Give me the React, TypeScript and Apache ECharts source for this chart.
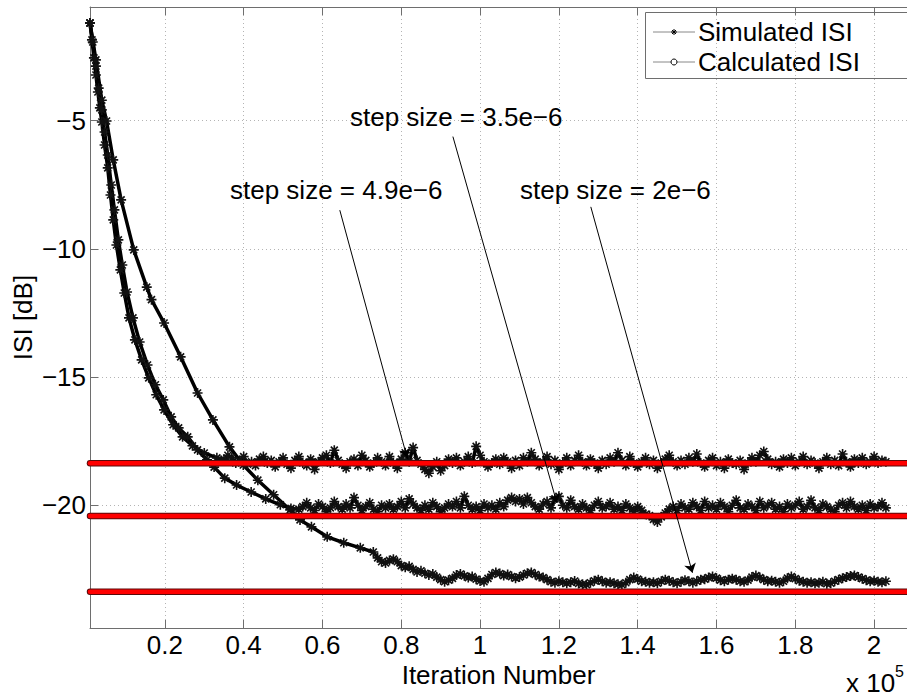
import React, { useEffect, useRef } from "react";
import * as echarts from "echarts";

const FONT = "'Liberation Sans', Arial, Helvetica, sans-serif";

// axis ticks (x in units of 1e5 iterations)
const xTicks = [0.2, 0.4, 0.6, 0.8, 1.0, 1.2, 1.4, 1.6, 1.8, 2.0];
const yTicks = [-20, -15, -10, -5];
const X_MIN = 0.01;
const X_MAX = 2.0835;
const Y_MIN = -24.785;
const Y_MAX = -0.566;

// calculated (theoretical) ISI levels, one per step size
const calcLevels = [-18.36, -20.42, -23.37];

// Simulated ISI, step size = 4.9e-6
const simAx = [
  0.010, 0.015, 0.020, 0.025, 0.030, 0.035, 0.040, 0.047, 0.055, 0.062, 0.069, 0.077, 0.087, 0.097,
  0.109, 0.124, 0.141, 0.159, 0.178, 0.198, 0.221, 0.245, 0.270, 0.300, 0.332,
  0.35, 0.36, 0.37, 0.38, 0.39, 0.40, 0.41, 0.42, 0.43, 0.44,
  0.45, 0.46, 0.47, 0.48, 0.49, 0.50, 0.51, 0.52, 0.53, 0.54,
  0.55, 0.56, 0.57, 0.58, 0.59, 0.60, 0.61, 0.62, 0.63, 0.64,
  0.65, 0.66, 0.67, 0.68, 0.69, 0.70, 0.71, 0.72, 0.73, 0.74,
  0.75, 0.76, 0.77, 0.78, 0.79, 0.80, 0.81, 0.82, 0.83, 0.84,
  0.85, 0.86, 0.87, 0.88, 0.89, 0.90, 0.91, 0.92, 0.93, 0.94,
  0.95, 0.96, 0.97, 0.98, 0.99, 1.00, 1.01, 1.02, 1.03, 1.04,
  1.05, 1.06, 1.07, 1.08, 1.09, 1.10, 1.11, 1.12, 1.13, 1.14,
  1.15, 1.16, 1.17, 1.18, 1.19, 1.20, 1.21, 1.22, 1.23, 1.24,
  1.25, 1.26, 1.27, 1.28, 1.29, 1.30, 1.31, 1.32, 1.33, 1.34,
  1.35, 1.36, 1.37, 1.38, 1.39, 1.40, 1.41, 1.42, 1.43, 1.44,
  1.45, 1.46, 1.47, 1.48, 1.49, 1.50, 1.51, 1.52, 1.53, 1.54,
  1.55, 1.56, 1.57, 1.58, 1.59, 1.60, 1.61, 1.62, 1.63, 1.64,
  1.65, 1.66, 1.67, 1.68, 1.69, 1.70, 1.71, 1.72, 1.73, 1.74,
  1.75, 1.76, 1.77, 1.78, 1.79, 1.80, 1.81, 1.82, 1.83, 1.84,
  1.85, 1.86, 1.87, 1.88, 1.89, 1.90, 1.91, 1.92, 1.93, 1.94,
  1.95, 1.96, 1.97, 1.98, 1.99, 2.00, 2.01, 2.02, 2.03,
];
const simAy = [
  -1.19, -1.85, -2.55, -3.22, -3.88, -4.5, -5.05, -5.95, -6.84, -7.9, -8.87, -9.85, -10.82, -11.72,
  -12.69, -13.55, -14.33, -15.03, -15.69, -16.28, -16.86, -17.33, -17.68, -17.96, -18.15,
  -18.2, -18.05, -18.15, -18.35, -18.25, -18.1, -18.4, -18.3, -18.45, -18.2,
  -18.1, -18.35, -18.25, -18.5, -18.3, -18.15, -18.4, -18.55, -18.25, -18.1,
  -18.35, -18.45, -18.2, -18.6, -18.3, -18.15, -18.05, -18.35, -17.85, -18.25,
  -18.4, -18.55, -18.3, -18.2, -18.45, -18.05, -18.25, -18.5, -18.35, -18.15,
  -18.3, -18.45, -18.1, -18.35, -18.55, -18.2, -17.95, -18.3, -17.75, -18.25,
  -18.4, -18.6, -18.75, -18.5, -18.3, -18.65, -18.45, -18.2, -18.35, -18.15,
  -18.45, -18.3, -18.1, -18.35, -17.7, -18.05, -18.3, -18.5, -18.35, -18.2,
  -18.4, -18.15, -18.3, -18.55, -18.25, -18.45, -18.15, -18.3, -17.95, -18.2,
  -18.45, -18.3, -18.1, -18.4, -18.25, -18.6, -18.35, -18.15, -18.45, -18.25,
  -18.05, -18.3, -18.45, -18.2, -18.35, -18.55, -18.25, -18.4, -18.15, -18.3,
  -17.95, -18.25, -18.45, -18.1, -18.35, -18.5, -18.3, -18.15, -18.4, -18.25,
  -18.55, -18.35, -18.2, -18.05, -18.3, -18.45, -18.25, -18.4, -18.15, -18.3,
  -18.0, -18.35, -18.5, -18.25, -18.15, -18.45, -18.3, -18.55, -18.2, -18.35,
  -18.4, -18.25, -18.6, -18.35, -18.15, -18.3, -18.05, -17.9, -18.2, -18.4,
  -18.3, -18.5, -18.2, -18.35, -18.15, -18.45, -18.3, -18.1, -18.4, -18.25,
  -18.35, -18.55, -18.3, -18.15, -18.4, -18.25, -18.45, -18.0, -18.3, -18.5,
  -18.2, -18.35, -18.15, -18.4, -18.3, -18.1, -18.35, -18.25, -18.3,
];

// Simulated ISI, step size = 3.5e-6
const simBx = [
  0.010, 0.017, 0.025, 0.032, 0.040, 0.047, 0.055, 0.064, 0.072, 0.082, 0.092, 0.104, 0.119, 0.136,
  0.156, 0.176, 0.196, 0.216, 0.235, 0.258, 0.283, 0.307, 0.325, 0.352, 0.382, 0.419, 0.456, 0.493, 0.520,
  0.54, 0.55, 0.56, 0.57, 0.58, 0.59, 0.60, 0.61, 0.62, 0.63,
  0.64, 0.65, 0.66, 0.67, 0.68, 0.69, 0.70, 0.71, 0.72, 0.73,
  0.74, 0.75, 0.76, 0.77, 0.78, 0.79, 0.80, 0.81, 0.82, 0.83,
  0.84, 0.85, 0.86, 0.87, 0.88, 0.89, 0.90, 0.91, 0.92, 0.93,
  0.94, 0.95, 0.96, 0.97, 0.98, 0.99, 1.00, 1.01, 1.02, 1.03,
  1.04, 1.05, 1.06, 1.07, 1.08, 1.09, 1.10, 1.11, 1.12, 1.13,
  1.14, 1.15, 1.16, 1.17, 1.18, 1.19, 1.20, 1.21, 1.22, 1.23,
  1.24, 1.25, 1.26, 1.27, 1.28, 1.29, 1.30, 1.31, 1.32, 1.33,
  1.34, 1.35, 1.36, 1.37, 1.38, 1.39, 1.40, 1.41, 1.42, 1.43,
  1.44, 1.45, 1.46, 1.47, 1.48, 1.49, 1.50, 1.51, 1.52, 1.53,
  1.54, 1.55, 1.56, 1.57, 1.58, 1.59, 1.60, 1.61, 1.62, 1.63,
  1.64, 1.65, 1.66, 1.67, 1.68, 1.69, 1.70, 1.71, 1.72, 1.73,
  1.74, 1.75, 1.76, 1.77, 1.78, 1.79, 1.80, 1.81, 1.82, 1.83,
  1.84, 1.85, 1.86, 1.87, 1.88, 1.89, 1.90, 1.91, 1.92, 1.93,
  1.94, 1.95, 1.96, 1.97, 1.98, 1.99, 2.00, 2.01, 2.02, 2.03,
];
const simBy = [
  -1.19, -1.93, -2.87, -3.73, -4.58, -5.44, -6.34, -7.51, -8.48, -9.65, -10.63, -11.68, -12.69, -13.63,
  -14.53, -15.3, -15.89, -16.55, -16.98, -17.33, -17.84, -18.23, -18.51, -18.94, -19.21, -19.48, -19.75, -19.98, -20.12,
  -20.15, -20.05, -19.9, -20.1, -20.2, -19.95, -20.05, -20.25, -20.1, -19.85,
  -20.05, -20.15, -19.95, -20.1, -19.7, -20.0, -20.2, -20.05, -19.9, -20.15,
  -20.25, -20.0, -20.1, -19.95, -20.15, -20.05, -19.85, -20.1, -19.75, -19.95,
  -20.1, -20.2, -20.0, -20.15, -19.9, -20.05, -20.25, -20.1, -19.95, -20.05,
  -19.85, -20.1, -19.65, -20.0, -20.15, -20.05, -20.2, -19.95, -20.1, -20.0,
  -20.15, -19.9, -20.05, -19.8, -19.7, -19.85, -19.75, -19.95, -19.7, -19.9,
  -20.05, -20.15, -19.95, -19.85, -20.1, -19.75, -19.65, -20.0, -20.1, -19.8,
  -20.05, -20.15, -19.95, -20.1, -20.2, -20.0, -19.85, -20.1, -20.05, -19.9,
  -20.15, -20.05, -20.2, -19.95, -20.1, -20.25, -20.05, -20.2, -20.35, -20.4,
  -20.55, -20.65, -20.45, -20.3, -20.15, -20.05, -20.2, -19.95, -20.1, -20.15,
  -19.9, -20.05, -20.2, -19.85, -20.1, -20.0, -20.15, -19.9, -20.05, -20.25,
  -20.0, -19.8, -20.1, -20.15, -19.95, -20.05, -20.2, -19.85, -20.1, -20.0,
  -19.9, -20.15, -20.05, -20.25, -19.95, -20.1, -20.0, -19.85, -20.15, -20.05,
  -19.8, -20.1, -20.2, -19.95, -20.05, -20.15, -20.25, -20.0, -19.9, -20.1,
  -19.85, -20.05, -20.15, -20.0, -20.2, -19.95, -20.1, -20.05, -19.9, -20.1,
];

// Simulated ISI, step size = 2e-6
const simCx = [
  0.010, 0.025, 0.040, 0.052, 0.069, 0.089, 0.121, 0.154, 0.166, 0.198, 0.240, 0.283, 0.322, 0.364,
  0.399, 0.436, 0.476, 0.518, 0.543, 0.572, 0.612, 0.654, 0.696, 0.729,
  0.74, 0.75, 0.76, 0.77, 0.78, 0.79, 0.80, 0.81, 0.82, 0.83,
  0.84, 0.85, 0.86, 0.87, 0.88, 0.89, 0.90, 0.91, 0.92, 0.93,
  0.94, 0.95, 0.96, 0.97, 0.98, 0.99, 1.00, 1.01, 1.02, 1.03,
  1.04, 1.05, 1.06, 1.07, 1.08, 1.09, 1.10, 1.11, 1.12, 1.13,
  1.14, 1.15, 1.16, 1.17, 1.18, 1.19, 1.20, 1.21, 1.22, 1.23,
  1.24, 1.25, 1.26, 1.27, 1.28, 1.29, 1.30, 1.31, 1.32, 1.33,
  1.34, 1.35, 1.36, 1.37, 1.38, 1.39, 1.40, 1.41, 1.42, 1.43,
  1.44, 1.45, 1.46, 1.47, 1.48, 1.49, 1.50, 1.51, 1.52, 1.53,
  1.54, 1.55, 1.56, 1.57, 1.58, 1.59, 1.60, 1.61, 1.62, 1.63,
  1.64, 1.65, 1.66, 1.67, 1.68, 1.69, 1.70, 1.71, 1.72, 1.73,
  1.74, 1.75, 1.76, 1.77, 1.78, 1.79, 1.80, 1.81, 1.82, 1.83,
  1.84, 1.85, 1.86, 1.87, 1.88, 1.89, 1.90, 1.91, 1.92, 1.93,
  1.94, 1.95, 1.96, 1.97, 1.98, 1.99, 2.00, 2.01, 2.02, 2.03,
];
const simCy = [
  -1.19, -2.63, -4.2, -5.01, -6.53, -8.09, -10.04, -11.49, -11.98, -12.89, -14.21, -15.62, -16.67, -17.72,
  -18.43, -19.02, -19.59, -20.18, -20.57, -20.84, -21.23, -21.46, -21.66, -21.82,
  -22.05, -22.2, -22.25, -22.15, -22.1, -22.2, -22.35, -22.42, -22.38, -22.5,
  -22.6, -22.55, -22.65, -22.72, -22.68, -22.8, -22.9, -22.98, -22.92, -22.85,
  -22.72, -22.68, -22.75, -22.82, -22.78, -22.88, -22.95, -22.98, -22.85, -22.7,
  -22.62, -22.66, -22.74, -22.7, -22.78, -22.84, -22.8, -22.72, -22.65, -22.62,
  -22.7, -22.78, -22.82, -22.9, -22.98, -23.02, -22.96, -23.0, -23.04, -23.0,
  -22.95, -23.05, -23.08, -23.1, -23.02, -22.94, -22.9, -22.96, -23.02, -23.0,
  -23.04, -23.08, -23.1, -23.02, -22.9, -22.82, -22.88, -22.96, -22.98, -23.02,
  -23.0, -23.04, -22.96, -22.9, -22.94, -23.0, -23.04, -22.98, -22.92, -22.96,
  -23.02, -22.96, -22.9, -22.88, -22.82, -22.78, -22.84, -22.92, -22.96, -22.9,
  -22.86, -22.9, -22.96, -22.98, -22.92, -22.8, -22.74, -22.82, -22.9, -22.96,
  -22.94, -22.98, -23.02, -22.96, -22.84, -22.78, -22.86, -22.94, -22.98, -23.02,
  -23.0, -23.04, -23.02, -22.98, -23.06, -23.04, -22.96, -22.9, -22.84, -22.8,
  -22.76, -22.74, -22.8, -22.86, -22.92, -22.96, -22.94, -22.98, -23.0, -22.96,
];

// annotation texts and arrow (start -> tip) in data coordinates
const stepLabels = ["step size = 4.9e\u22126", "step size = 3.5e\u22126", "step size = 2e\u22126"];
const arrowStart = [
  [0.644, -8.49],
  [0.931, -5.62],
  [1.281, -8.36],
];
const arrowEnd = [
  [0.815, -18.15],
  [1.195, -19.91],
  [1.539, -22.63],
];

const zip = (xs: number[], ys: number[]) => ys.map((y, i) => [xs[i], y]);

const STAR = "path://M5,0L5,10M0,5L10,5M1.5,1.5L8.5,8.5M8.5,1.5L1.5,8.5";

export default function App() {
  const ref = useRef<HTMLDivElement>(null);
  useEffect(() => {
    document.body.style.margin = "0";
    document.body.style.overflow = "hidden";
    const chart = echarts.init(ref.current!, null, { renderer: "svg" });

    const simSeries = [zip(simAx, simAy), zip(simBx, simBy), zip(simCx, simCy)].map((d) => ({
      type: "line",
      data: d,
      symbol: STAR,
      symbolSize: 10,
      showAllSymbol: true,
      itemStyle: { color: "#000", borderColor: "#111", borderWidth: 1.6 },
      lineStyle: { color: "#000", width: 3.5 },
      silent: true,
      z: 2,
    }));

    const redUnder = calcLevels.map((v) => ({
      type: "line",
      data: [
        [X_MIN, v],
        [X_MAX + 0.1, v],
      ],
      symbol: "none",
      lineStyle: { color: "#5a0a0a", width: 6.5, cap: "round" },
      silent: true,
      z: 3,
    }));
    const redOver = calcLevels.map((v, i) => ({
      type: "line",
      data: [
        [X_MIN, v],
        [X_MAX + 0.1, v],
      ],
      symbol: "none",
      lineStyle: { color: "#ff0000", width: 4.5, cap: "round" },
      silent: true,
      z: 4,
      markLine:
        i === 0
          ? {
              silent: true,
              symbol: ["none", "arrow"],
              symbolSize: 9,
              label: { show: false },
              lineStyle: { color: "#000", width: 1, type: "solid" },
              data: arrowStart.map((s, k) => [{ coord: s }, { coord: arrowEnd[k] }]),
            }
          : undefined,
    }));

    const axisLineColor = "#6e6e6e";
    const gridLine = { show: true, lineStyle: { color: "#b4b4b4", width: 1, type: [1, 3] } };

    const option: any = {
      animation: false,
      grid: { left: 90, top: 7, right: -20, bottom: 69 },
      xAxis: [
        {
          type: "value",
          position: "bottom",
          min: X_MIN,
          max: X_MAX,
          axisLine: { lineStyle: { color: axisLineColor, width: 1 } },
          axisTick: { inside: true, length: 8, customValues: xTicks, lineStyle: { color: axisLineColor } },
          axisLabel: {
            customValues: xTicks,
            color: "#000",
            fontSize: 26,
            lineHeight: 20,
            fontFamily: FONT,
            margin: 7,
            formatter: (v: number) => String(Math.round(v * 10) / 10),
          },
          splitLine: gridLine,
          name: "Iteration Number",
          nameLocation: "middle",
          nameGap: 37,
          nameMoveOverlap: false,
          nameTextStyle: { color: "#000", fontSize: 26, lineHeight: 20, fontFamily: FONT },
        },
        {
          type: "value",
          position: "top",
          min: X_MIN,
          max: X_MAX,
          axisLine: { lineStyle: { color: axisLineColor, width: 1 } },
          axisTick: { inside: true, length: 8, customValues: xTicks, lineStyle: { color: axisLineColor } },
          axisLabel: { show: false },
          splitLine: { show: false },
        },
      ],
      yAxis: [
        {
          type: "value",
          min: Y_MIN,
          max: Y_MAX,
          axisLine: { show: true, lineStyle: { color: axisLineColor, width: 1 } },
          axisTick: { show: true, inside: true, length: 8, customValues: yTicks, lineStyle: { color: axisLineColor } },
          axisLabel: {
            customValues: yTicks,
            color: "#000",
            fontSize: 26,
            fontFamily: FONT,
            margin: 4,
            formatter: (v: number) => String(v).replace("-", "\u2212"),
          },
          splitLine: gridLine,
          name: "ISI [dB]",
          nameLocation: "middle",
          nameGap: 54,
          nameRotate: 90,
          nameMoveOverlap: false,
          nameTextStyle: { color: "#000", fontSize: 26, fontFamily: FONT },
        },
      ],
      series: [...simSeries, ...redUnder, ...redOver],
      graphic: [
        // step size annotations
        { type: "text", x: 230, y: 190, z: 50, style: { text: stepLabels[0], fill: "#000", fontSize: 26, fontFamily: FONT, textVerticalAlign: "middle", verticalAlign: "middle" } },
        { type: "text", x: 350, y: 117, z: 50, style: { text: stepLabels[1], fill: "#000", fontSize: 26, fontFamily: FONT, textVerticalAlign: "middle", verticalAlign: "middle" } },
        { type: "text", x: 520, y: 190, z: 50, style: { text: stepLabels[2], fill: "#000", fontSize: 26, fontFamily: FONT, textVerticalAlign: "middle", verticalAlign: "middle" } },
        // x 10^5
        { type: "text", x: 846, y: 683, z: 50, style: { text: "x 10", fill: "#000", fontSize: 26, lineHeight: 20, fontFamily: FONT, textVerticalAlign: "middle", verticalAlign: "middle" } },
        { type: "text", x: 895, y: 671, z: 50, style: { text: "5", fill: "#000", fontSize: 16, fontFamily: FONT, textVerticalAlign: "middle", verticalAlign: "middle" } },
        // legend
        {
          type: "group",
          z: 60,
          children: [
            { type: "rect", shape: { x: 645.5, y: 12.5, width: 270, height: 66 }, style: { fill: "#fff", stroke: axisLineColor, lineWidth: 1 } },
            { type: "line", shape: { x1: 653, y1: 32, x2: 695, y2: 32 }, style: { stroke: "#888", lineWidth: 1 } },
            { type: "line", shape: { x1: 674, y1: 29, x2: 674, y2: 35 }, style: { stroke: "#000", lineWidth: 1 } },
            { type: "line", shape: { x1: 671, y1: 32, x2: 677, y2: 32 }, style: { stroke: "#000", lineWidth: 1 } },
            { type: "line", shape: { x1: 672, y1: 30, x2: 676, y2: 34 }, style: { stroke: "#000", lineWidth: 1 } },
            { type: "line", shape: { x1: 676, y1: 30, x2: 672, y2: 34 }, style: { stroke: "#000", lineWidth: 1 } },
            { type: "text", x: 698, y: 32, style: { text: "Simulated ISI", fill: "#000", fontSize: 26, fontFamily: FONT, textVerticalAlign: "middle", verticalAlign: "middle" } },
            { type: "line", shape: { x1: 653, y1: 62, x2: 695, y2: 62 }, style: { stroke: "#888", lineWidth: 1 } },
            { type: "circle", shape: { cx: 674, cy: 62, r: 3 }, style: { fill: "#fff", stroke: "#000", lineWidth: 1 } },
            { type: "text", x: 698, y: 62, style: { text: "Calculated ISI", fill: "#000", fontSize: 26, fontFamily: FONT, textVerticalAlign: "middle", verticalAlign: "middle" } },
          ],
        },
      ],
    };

    chart.setOption(option);
    return () => chart.dispose();
  }, []);

  return <div ref={ref} style={{ width: 907, height: 697 }} />;
}
